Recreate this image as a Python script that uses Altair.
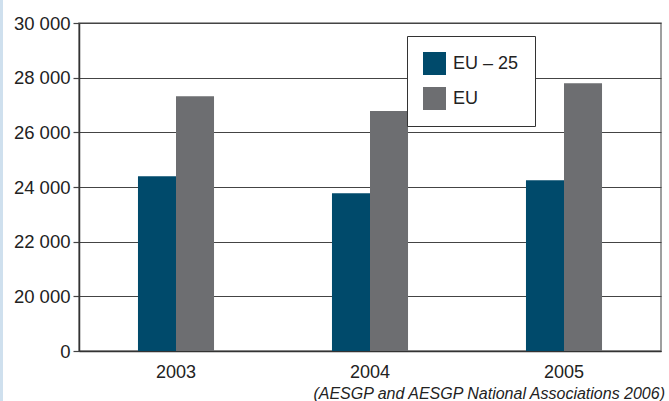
import altair as alt
import pandas as pd

years = ["2003", "2004", "2005"]
series = ["EU – 25", "EU"]
eu25_values = [24390, 23770, 24250]
eu_values = [27320, 26780, 27800]
y_ticks = [18000, 20000, 22000, 24000, 26000, 28000, 30000]
colors = ["#004a6b", "#6d6e71"]
caption = "(AESGP and AESGP National Associations 2006)"

rows = []
for i, yr in enumerate(years):
    rows.append({"year": yr, "series": series[0], "value": eu25_values[i]})
    rows.append({"year": yr, "series": series[1], "value": eu_values[i]})
df = pd.DataFrame(rows)

FONT = "Liberation Sans"

bars = alt.Chart(df).mark_bar(clip=True).encode(
    x=alt.X("year:N", sort=years,
            scale=alt.Scale(paddingInner=0.608, paddingOuter=0.304),
            axis=alt.Axis(title=None, labelAngle=0, ticks=False, tickSize=0,
                          labelPadding=12, labelFontSize=18, labelColor="#222",
                          domainColor="#333", domainWidth=1.5, grid=False)),
    xOffset=alt.XOffset("series:N", sort=series),
    y=alt.Y("value:Q",
            scale=alt.Scale(domain=[18000, 30000], nice=False, zero=False),
            axis=alt.Axis(title=None, values=y_ticks,
                          labelExpr="datum.value == 18000 ? '0' : replace(format(datum.value, ','), ',', ' ')",
                          labelFontSize=18.5, labelColor="#222", labelPadding=3,
                          tickSize=6, tickColor="#444", tickWidth=1.2,
                          domainColor="#333", domainWidth=1.5,
                          grid=True, gridColor="#444", gridWidth=1.2)),
    color=alt.Color("series:N", sort=series,
                    scale=alt.Scale(domain=series, range=colors),
                    legend=alt.Legend(title=None, orient="none", legendX=328, legendY=13,
                                      symbolType="square", symbolSize=529,
                                      symbolStrokeWidth=0, labelFontSize=18,
                                      labelColor="#222", labelOffset=7,
                                      rowPadding=12, padding=16,
                                      strokeColor="#333", fillColor="white")),
)

strip = alt.Chart(pd.DataFrame({"a": [0]})).mark_rect(color="#cfe0ee").encode(
    x=alt.value(-79), x2=alt.value(-76), y=alt.value(-23), y2=alt.value(378)
)

cap = alt.Chart(pd.DataFrame({"t": [caption]})).mark_text(
    font=FONT, fontSize=16, fontStyle="italic", align="right", baseline="alphabetic",
    color="#222"
).encode(text="t:N", x=alt.value(586), y=alt.value(376))

chart = alt.layer(strip, bars, cap).properties(
    width=582, height=328,
    padding={"left": 79, "top": 23, "right": 8, "bottom": 50},
    autosize=alt.AutoSizeParams(type="none"),
    background="white",
).configure(font=FONT).configure_view(stroke="#808080", strokeWidth=1.5)

chart.save("out.html", embed_options={"renderer": "svg", "actions": False})
